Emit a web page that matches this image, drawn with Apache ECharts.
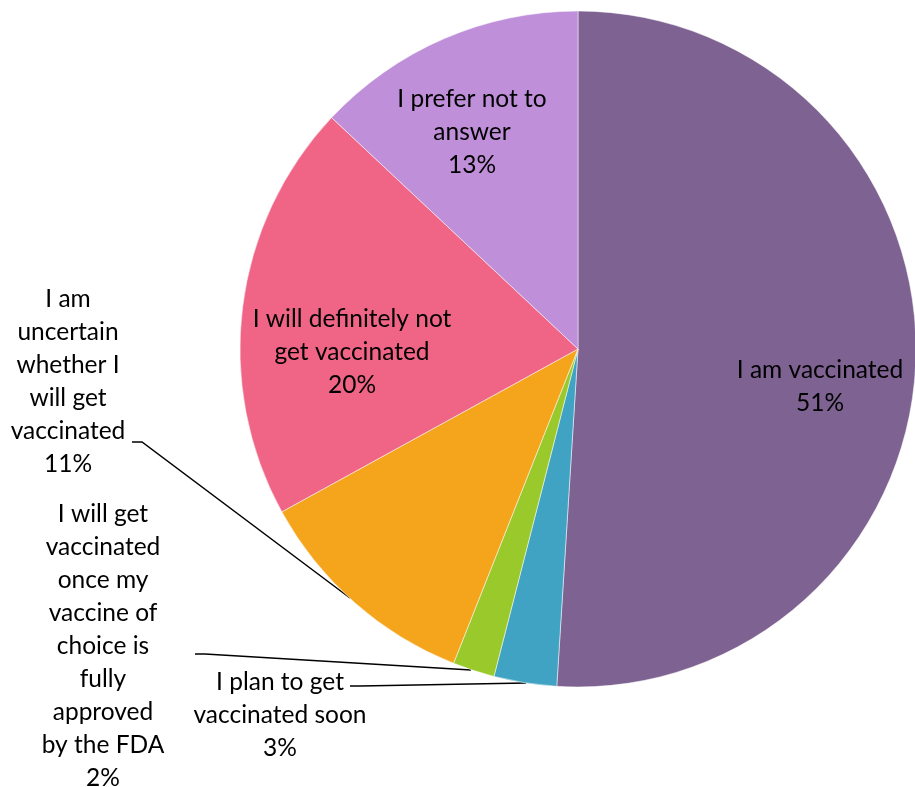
<!DOCTYPE html>
<html>
<head>
<meta charset="utf-8">
<script src="https://cdn.jsdelivr.net/npm/echarts@6/dist/echarts.min.js"></script>
<style>
  html, body { margin: 0; padding: 0; background: #fff; }
  #chart { width: 915px; height: 787px; }
</style>
</head>
<body>
<div id="chart"></div>
<script>
  // categories, clockwise from 12 o'clock
  var categories = [
    'I am vaccinated',
    'I plan to get vaccinated soon',
    'I will get vaccinated once my vaccine of choice is fully approved by the FDA',
    'I am uncertain whether I will get vaccinated',
    'I will definitely not get vaccinated',
    'I prefer not to answer'
  ];
  // label text as wrapped in the chart
  var labelText = [
    'I am vaccinated',
    'I plan to get\nvaccinated soon',
    'I will get\nvaccinated\nonce my\nvaccine of\nchoice is\nfully\napproved\nby the FDA',
    'I am\nuncertain\nwhether I\nwill get\nvaccinated',
    'I will definitely not\nget vaccinated',
    'I prefer not to\nanswer'
  ];
  var values = [51, 3, 2, 11, 20, 13];
  var colors = ['#7E6291', '#40A3C3', '#99C92B', '#F4A51C', '#F06586', '#BF8FD9'];

  // where each label block is centred, and leader lines for the small slices
  var labelPos = [
    { x: 820, y: 387 },
    { x: 280, y: 715, line: [[526, 683], [360, 686], [350, 686]] },
    { x: 103, y: 646, line: [[471, 670], [205, 654], [195, 654]] },
    { x: 68, y: 382, line: [[350, 598], [142, 442], [132, 442]] },
    { x: 352, y: 352 },
    { x: 472, y: 132 }
  ];
  var outside = [false, true, true, true, false, false];

  var chart = echarts.init(document.getElementById('chart'));
  var data = categories.map(function (name, i) {
    return {
      name: name,
      value: values[i],
      itemStyle: { color: colors[i] },
      label: { position: outside[i] ? 'outside' : 'inside' },
      labelLine: { show: outside[i], lineStyle: { color: '#000', width: 1.5 } }
    };
  });

  chart.setOption({
    backgroundColor: '#fff',
    animation: false,
    series: [{
      type: 'pie',
      center: [578, 349],
      radius: [0, 338],
      startAngle: 90,
      clockwise: true,
      data: data,
      itemStyle: { borderColor: '#fff', borderWidth: 0.5 },
      label: {
        show: true,
        color: '#000',
        fontFamily: 'Lato',
        fontSize: 24.5,
        lineHeight: 33,
        align: 'center',
        overflow: 'none',
        formatter: function (p) {
          return labelText[p.dataIndex] + '\n' + Math.round(p.percent) + '%';
        }
      },
      labelLayout: function (p) {
        var pos = labelPos[p.dataIndex];
        var o = {
          x: pos.x,
          y: pos.y,
          align: 'center',
          verticalAlign: 'middle'
        };
        if (pos.line) o.labelLinePoints = pos.line;
        return o;
      }
    }]
  });
</script>
</body>
</html>
